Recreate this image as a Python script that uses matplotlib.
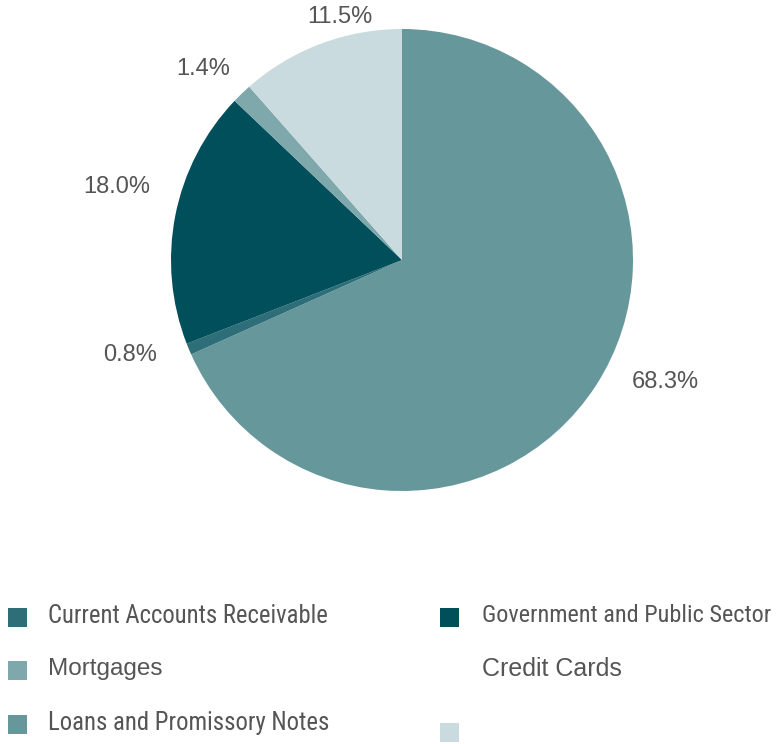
import matplotlib
matplotlib.use("Agg")
import matplotlib.pyplot as plt
from matplotlib import font_manager
from matplotlib.patches import Rectangle

# 좁은 글꼴 찾기 (없으면 Liberation Sans)
names = {f.name for f in font_manager.fontManager.ttflist}
narrow = None
for cand in ['Liberation Sans Narrow', 'Arial Narrow', 'Roboto Condensed',
             'Open Sans Condensed', 'Nimbus Sans Narrow', 'DejaVu Sans Condensed']:
    if cand in names:
        narrow = cand
        break
scale = 1.0 if narrow else 0.88
if narrow is None:
    narrow = 'Liberation Sans'

plt.rcParams['font.family'] = ['Liberation Sans', 'DejaVu Sans']

# 파이 데이터 (시계 방향, 12시 시작)
categories = ["Loans and Promissory Notes", "Current Accounts Receivable",
              "Government and Public Sector", "Mortgages", "Credit Cards"]
values = [68.3, 0.8, 18.0, 1.4, 11.5]
colors = ["#66979b", "#2e6e78", "#004f5a", "#7fa8ad", "#c9dbde"]
value_labels = ["68.3%", "0.8%", "18.0%", "1.4%", "11.5%"]
# 라벨 위치 (데이터 좌표, 반지름 1 기준)
label_pos = [(1.139, -0.528), (-1.177, -0.411), (-1.234, 0.316), (-0.861, 0.827), (-0.268, 1.052)]

text_color = "#555555"

fig = plt.figure(figsize=(7.81, 7.44), dpi=100)
ax = fig.add_axes([(402 - 231) / 781, (744 - 491) / 744, 462 / 781, 462 / 744])
ax.pie(values, colors=colors, startangle=90, counterclock=False,
       wedgeprops=dict(linewidth=0))
ax.set_xlim(-1, 1)
ax.set_ylim(-1, 1)
ax.set_aspect('auto')
ax.axis('off')

for (x, y), t in zip(label_pos, value_labels):
    ax.text(x, y, t, fontsize=17, color=text_color, ha='center', va='center', clip_on=False)

# 범례 (원본의 배치 그대로)
# (swatch 색, swatch 행, 텍스트, 텍스트 행, 열, 좁은 글꼴 여부, 크기)
legend_items = [
    ("#2e6e78", 0, "Current Accounts Receivable", 0, 0, True, 17.7),
    ("#7fa8ad", 1, "Mortgages", 1, 0, False, 17.5),
    ("#66979b", 2, "Loans and Promissory Notes", 2, 0, True, 17.8),
    ("#004f5a", 0, "Government and Public Sector", 0, 1, True, 17.5),
    (None, None, "Credit Cards", 1, 1, False, 18),
    ("#c9dbde", 2, None, None, 1, False, 0),
]
row_y = [616, 669, 723]
col_sw_x = [8, 440]
col_tx_x = [48, 482]
sw = 19

for color, srow, text, trow, col, is_narrow, size in legend_items:
    if color is not None:
        yy = row_y[srow] + (9 if text is None else 1)
        fig.patches.append(Rectangle((col_sw_x[col] / 781, 1 - (yy + sw / 2) / 744),
                                     sw / 781, sw / 744, transform=fig.transFigure,
                                     facecolor=color, edgecolor='none'))
    if text is not None:
        fam = [narrow, 'DejaVu Sans'] if is_narrow else ['Liberation Sans', 'DejaVu Sans']
        fs = size * scale if is_narrow else size
        fig.text(col_tx_x[col] / 781, 1 - row_y[trow] / 744, text, fontsize=fs,
                 family=fam, color=text_color, ha='left', va='center')

plt.savefig('out.png', dpi=100)
